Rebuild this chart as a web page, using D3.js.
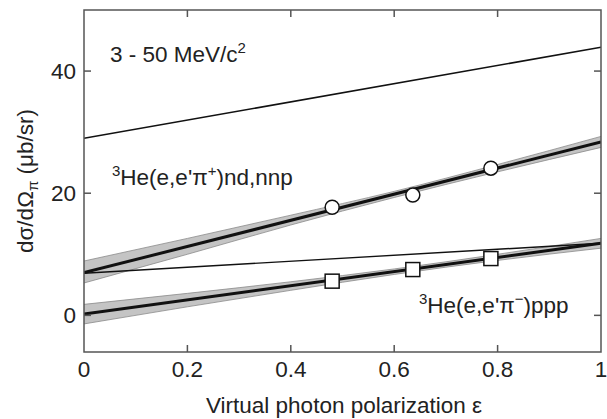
<!DOCTYPE html>
<meta charset="utf-8">
<style>
body { margin: 0; background: #fff; }
svg { display: block; }
text { font-family: "Liberation Sans", Arial, sans-serif; fill: #222; }
</style>
<body>
  <svg id="chart" width="607" height="419"></svg>
</body>
<script src="https://d3js.org/d3.v7.min.js"></script>
<script>
// measured points (virtual photon polarization, cross section)
var epsPts = [0.48, 0.636, 0.787];
var piPlus = [17.7, 19.7, 24.1];
var piMinus = [5.6, 7.5, 9.3];

// straight lines, values at eps = 0 and eps = 1
var lineEps = [0, 1];
var piPlusFit = [7.0, 28.4];
var piMinusFit = [0.2, 11.8];
var upperThin = [29.0, 43.9];
var lowerThin = [6.9, 11.8];

// error bands
var bandEps = [0, 0.2, 0.4, 0.6, 0.8, 1];
var piPlusLo = [5.3, 10.0, 14.8, 19.3, 23.5, 27.5];
var piPlusHi = [8.9, 12.6, 16.4, 20.3, 24.7, 29.3];
var piMinusLo = [-1.4, 1.4, 4.1, 6.7, 9.0, 11.0];
var piMinusHi = [1.8, 3.6, 5.5, 7.6, 10.0, 12.6];

var xTicks = [0, 0.2, 0.4, 0.6, 0.8, 1];
var yTicks = [0, 20, 40];

(function () {
  var svg = d3.select("#chart"),
    pLeft = 84, pRight = 601, pTop = 10, pBottom = 352,
    fs = "22.5px", fsSmall = "15px";

  var x = d3.scaleLinear().domain([0, 1]).range([pLeft, pRight]),
    y = d3.scaleLinear().domain([-6, 50]).range([pBottom, pTop]);

  // clip to frame
  svg.append("clipPath").attr("id", "clip")
    .append("rect").attr("x", pLeft).attr("y", pTop)
    .attr("width", pRight - pLeft).attr("height", pBottom - pTop);
  var plot = svg.append("g").attr("clip-path", "url(#clip)");

  function band(lo, hi) {
    var pts = bandEps.map(function (e, i) { return { e: e, lo: lo[i], hi: hi[i] }; });
    var area = d3.area()
      .x(function (d) { return x(d.e); })
      .y0(function (d) { return y(d.lo); })
      .y1(function (d) { return y(d.hi); })
      .curve(d3.curveMonotoneX);
    plot.append("path").datum(pts).attr("d", area)
      .attr("fill", "#c4c4c4").attr("stroke", "none");
    ["lo", "hi"].forEach(function (k) {
      plot.append("path").datum(pts)
        .attr("d", d3.line().x(function (d) { return x(d.e); })
          .y(function (d) { return y(d[k]); }).curve(d3.curveMonotoneX))
        .attr("fill", "none").attr("stroke", "#8a8a8a").attr("stroke-width", 0.8);
    });
  }

  function straight(vals, w) {
    var pts = lineEps.map(function (e, i) { return [x(e), y(vals[i])]; });
    plot.append("path").attr("d", d3.line()(pts))
      .attr("fill", "none").attr("stroke", "#111").attr("stroke-width", w);
  }

  band(piPlusLo, piPlusHi);
  band(piMinusLo, piMinusHi);
  straight(upperThin, 1.6);
  straight(lowerThin, 1.4);
  straight(piPlusFit, 3);
  straight(piMinusFit, 3);

  // markers
  plot.selectAll("circle.pp").data(epsPts).enter().append("circle")
    .attr("cx", function (d) { return x(d); })
    .attr("cy", function (d, i) { return y(piPlus[i]); })
    .attr("r", 7).attr("fill", "#fff").attr("stroke", "#111").attr("stroke-width", 1.5);

  plot.selectAll("rect.pm").data(epsPts).enter().append("rect")
    .attr("x", function (d) { return x(d) - 7; })
    .attr("y", function (d, i) { return y(piMinus[i]) - 7; })
    .attr("width", 14).attr("height", 14)
    .attr("fill", "#fff").attr("stroke", "#111").attr("stroke-width", 1.5);

  // frame and inward ticks
  var frame = svg.append("g").attr("stroke", "#555").attr("stroke-width", 1.5);
  frame.append("rect").attr("x", pLeft).attr("y", pTop)
    .attr("width", pRight - pLeft).attr("height", pBottom - pTop).attr("fill", "none");
  xTicks.slice(1, -1).forEach(function (t) {
    frame.append("line").attr("x1", x(t)).attr("x2", x(t)).attr("y1", pBottom).attr("y2", pBottom - 7);
    frame.append("line").attr("x1", x(t)).attr("x2", x(t)).attr("y1", pTop).attr("y2", pTop + 7);
  });
  yTicks.forEach(function (t) {
    frame.append("line").attr("x1", pLeft).attr("x2", pLeft + 7).attr("y1", y(t)).attr("y2", y(t));
    frame.append("line").attr("x1", pRight).attr("x2", pRight - 7).attr("y1", y(t)).attr("y2", y(t));
  });

  // tick labels
  svg.selectAll("text.xt").data(xTicks).enter().append("text")
    .attr("x", function (d) { return x(d); }).attr("y", 377)
    .attr("text-anchor", "middle").style("font-size", fs)
    .text(function (d) { return d3.format("")(d); });
  svg.selectAll("text.yt").data(yTicks).enter().append("text")
    .attr("x", 76).attr("y", function (d) { return y(d) + 8; })
    .attr("text-anchor", "end").style("font-size", fs)
    .text(function (d) { return d; });

  // axis titles
  svg.append("text").attr("x", 344).attr("y", 413).attr("text-anchor", "middle")
    .style("font-size", fs).text("Virtual photon polarization \u03b5");

  var yl = svg.append("text").attr("transform", "translate(33,181) rotate(-90)")
    .attr("text-anchor", "middle").style("font-size", fs);
  yl.append("tspan").text("d\u03c3/d\u03a9");
  yl.append("tspan").attr("dy", 5).style("font-size", fsSmall).text("\u03c0");
  yl.append("tspan").attr("dy", -5).text(" (\u03bcb/sr)");

  // annotations
  var t1 = svg.append("text").attr("x", 110).attr("y", 62).style("font-size", fs);
  t1.append("tspan").text("3 - 50 MeV/c");
  t1.append("tspan").attr("dy", -9).style("font-size", fsSmall).text("2");

  function reaction(xp, yp, charge, rest) {
    var t = svg.append("text").attr("x", xp).attr("y", yp).style("font-size", fs);
    t.append("tspan").attr("dy", -9).style("font-size", fsSmall).text("3");
    t.append("tspan").attr("dy", 9).text("He(e,e'\u03c0");
    t.append("tspan").attr("dy", -9).style("font-size", fsSmall).text(charge);
    t.append("tspan").attr("dy", 9).text(")" + rest);
  }
  reaction(112, 185, "+", "nd,nnp");
  reaction(419, 313, "\u2212", "ppp");
})();
</script>
